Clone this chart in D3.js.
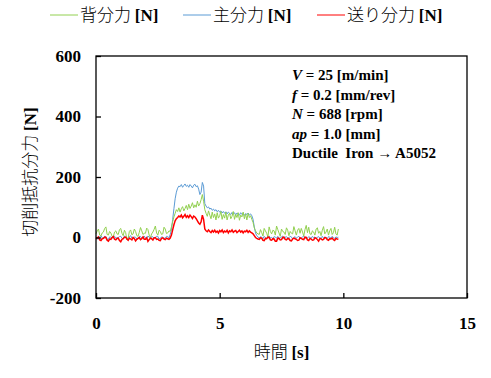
<!DOCTYPE html>
<html>
<head>
<meta charset="utf-8">
<script src="https://cdn.jsdelivr.net/npm/d3@7"></script>
<style>
  body { margin: 0; background: #fff; }
  svg { display: block; }
</style>
</head>
<body>
<svg id="chart" width="491" height="378"></svg>
<script>
// sampled every 0.05 s from 0 to 9.8 s
const sampleStep = 0.05

const seriesNames = ["背分力", "主分力", "送り分力"]

// 主分力 [N]
const mainForce = [
  2,-5,-4,3,6,-1,-2,4,3,-6, -6,2,1,-3,5,4,-3,-1,0,3, 4,-2,-5,5,2,-4,-1,3,6,-2,
  -3,2,1,-5,-4,4,3,-1,0,5, -2,-4,5,1,-4,3,2,-2,-1,4, 4,-5,-3,2,1,-3,-2,4,3,-1,
  10,25,60,95,128,150,163,170,168,175, 166,172,177,169,173,166,175,170,164,173,
  176,168,171,160,142,150,182,170,112,104, 98,101,94,97,90,94,88,92,85,90,
  84,88,81,86,80,85,78,84,80,76, 83,77,82,75,81,78,74,82,76,80,
  73,79,76,81,74,78,72,60,35,15,6,2,
  -2,3,1,-4,4,-1,-3,2,5,-2, 0,-4,3,1,-2,4,-3,-1,2,5, -4,1,3,-2,-1,4,2,-5,0,3,
  -2,1,4,-3,-1,2,5,-4,1,-2, 3,0,-3,4,-1,2,-4,1,3,-2, -1,4,-3,2,0,-4,3,1,-2,4,
  -1,-3,2,0,1
]

// 背分力 [N]
const backForce = [
  12,22,28,8,5,15,18,30,35,10, 8,20,15,4,2,18,22,12,10,26, 30,14,6,24,16,-8,-2,20,25,9,
  12,28,20,6,4,17,33,22,10,14, 14,31,26,8,0,12,18,27,38,15, 8,24,20,10,12,34,28,13,15,22,
  20,35,52,68,80,92,86,98,84,95, 102,88,96,106,92,110,96,104,115,98,
  108,100,120,104,112,125,142,120,92,80, 70,88,74,62,84,66,78,58,82,64,
  72,86,60,76,64,84,58,74,80,62, 70,86,60,76,66,82,57,74,68,84,
  62,78,58,80,66,72,60,50,32,22,15,12,
  10,26,16,5,30,22,14,2,35,20, 12,24,22,8,38,26,15,4,28,20, 18,10,32,24,6,20,14,12,36,22,
  8,24,30,14,30,18,5,26,40,16, 34,12,10,22,18,8,28,32,14,20, 6,24,36,12,18,28,8,22,30,10,
  16,34,12,8,28
]

// 送り分力 [N]
const feedForce = [
  -5,-1,2,-8,-10,-4,-3,1,0,-9, -12,-5,-6,0,3,-6,-8,-3,-2,-10, -14,-6,-4,1,1,-5,-9,-2,-5,-8,
  0,-4,-11,-6,-3,0,-7,-4,2,-6, -6,-1,-13,-7,-2,-4,-8,-1,0,-6, -5,-9,-10,-3,-1,-5,-7,-2,-4,-6,
  -2,8,25,42,55,62,66,71,68,74, 65,70,76,67,72,66,74,69,63,71,
  68,62,55,48,44,52,74,60,28,22, 19,25,20,16,23,18,24,17,21,15,
  23,19,25,16,21,18,24,15,22,19, 25,17,21,23,16,20,24,18,22,15,
  21,19,24,17,22,18,15,12,6,0,-3,-5,
  -6,-1,-2,-9,-10,-3,-4,1,0,-8, -9,-4,-5,-12,-12,-2,-3,-8,-7,0, 1,-6,-8,-3,-4,-10,-11,-5,-2,-4,
  -6,-10,-9,-1,-3,-6,-7,1,0,-8, -10,-3,-5,-9,-8,-1,-2,-7,-12,-4, -4,-8,-6,0,-1,-7,-9,-4,-5,-2,
  -7,-10,-3,-5,-6
]

const xTicks = [0, 5, 10, 15]
const yTicks = [-200, 0, 200, 400, 600]

const conditions = [
  [["V", true], [" = 25 [m/min]", false]],
  [["f", true], [" = 0.2 [mm/rev]", false]],
  [["N", true], [" = 688 [rpm]", false]],
  [["ap", true], [" = 1.0 [mm]", false]],
  [["Ductile\u00a0\u00a0Iron \u2192 A5052", false]]
]

const colors = {"背分力": "#92d050", "主分力": "#5b9bd5", "送り分力": "#ff0000"}
const strokeW = {"背分力": 1, "主分力": 1, "送り分力": 1.5}

const margin = {top: 56, right: 24, bottom: 80, left: 96}
const width = 491, height = 378

const svg = d3.select("#chart")

const x = d3.scaleLinear([0, 15], [margin.left, width - margin.right])
const y = d3.scaleLinear([-200, 600], [height - margin.bottom, margin.top])

// drawn back to front
const series = [
  {name: "主分力", values: mainForce},
  {name: "背分力", values: backForce},
  {name: "送り分力", values: feedForce}
]

const line = d3.line()
  .x((d, i) => x(i * sampleStep))
  .y(d => y(d))

svg.append("g")
  .selectAll("path")
  .data(series)
  .join("path")
  .attr("d", d => line(d.values))
  .attr("fill", "none")
  .attr("stroke", d => colors[d.name])
  .attr("stroke-width", d => strokeW[d.name])

// frame
svg.append("rect")
  .attr("x", x(0))
  .attr("y", y(600))
  .attr("width", x(15) - x(0))
  .attr("height", y(-200) - y(600))
  .attr("fill", "none")
  .attr("stroke", "#000")
  .attr("stroke-width", 1.3)

const tickFont = "'Liberation Serif', 'Times New Roman', serif"

const xAxis = svg.append("g")
  .attr("transform", `translate(0,${y(-200)})`)
  .call(d3.axisBottom(x).tickValues(xTicks).tickSizeInner(-5).tickSizeOuter(0).tickPadding(19))
xAxis.select(".domain").remove()

const yAxis = svg.append("g")
  .attr("transform", `translate(${x(0)},0)`)
  .call(d3.axisLeft(y).tickValues(yTicks).tickFormat(d => String(d))
    .tickSizeInner(-5).tickSizeOuter(0).tickPadding(15))
yAxis.select(".domain").remove()

svg.selectAll(".tick line").attr("stroke", "#000").attr("stroke-width", 1.3)
svg.selectAll(".tick text")
  .attr("font-family", tickFont)
  .attr("font-weight", "bold")
  .attr("font-size", 17)
  .attr("fill", "#000")

// axis titles
const xTitle = svg.append("text")
  .attr("x", (x(0) + x(15)) / 2)
  .attr("y", 358)
  .attr("text-anchor", "middle")
  .attr("font-size", 17)
xTitle.append("tspan").attr("font-family", "'Noto Sans CJK JP'").attr("font-weight", 300).text("時間 ")
xTitle.append("tspan").attr("font-family", tickFont).attr("font-weight", "bold").text("[s]")

const yTitle = svg.append("text")
  .attr("transform", `translate(36,${(y(600) + y(-200)) / 2 - 5}) rotate(-90)`)
  .attr("text-anchor", "middle")
  .attr("font-size", 17)
yTitle.append("tspan").attr("font-family", "'Noto Sans CJK JP'").attr("font-weight", 300).text("切削抵抗分力 ")
yTitle.append("tspan").attr("font-family", tickFont).attr("font-weight", "bold").text("[N]")

// legend
const legendX = [50, 183, 317]
const legend = svg.append("g")
  .selectAll("g")
  .data(seriesNames)
  .join("g")
  .attr("transform", (d, i) => `translate(${legendX[i]},15)`)
legend.append("line")
  .attr("x1", 0).attr("x2", 28)
  .attr("stroke", d => colors[d])
  .attr("stroke-width", 1)
const legendText = legend.append("text")
  .attr("x", 30)
  .attr("y", 6)
  .attr("font-size", 17)
legendText.append("tspan").attr("font-family", "'Noto Sans CJK JP'").attr("font-weight", 300).text(d => d + " ")
legendText.append("tspan").attr("font-family", tickFont).attr("font-weight", "bold").text("[N]")

// cutting conditions
const cond = svg.append("g")
  .selectAll("text")
  .data(conditions)
  .join("text")
  .attr("x", 292)
  .attr("y", (d, i) => 80 + i * 19.5)
  .attr("font-family", tickFont)
  .attr("font-weight", "bold")
  .attr("font-size", 15)
cond.selectAll("tspan")
  .data(d => d)
  .join("tspan")
  .attr("font-style", d => d[1] ? "italic" : "normal")
  .text(d => d[0])
</script>
</body>
</html>
